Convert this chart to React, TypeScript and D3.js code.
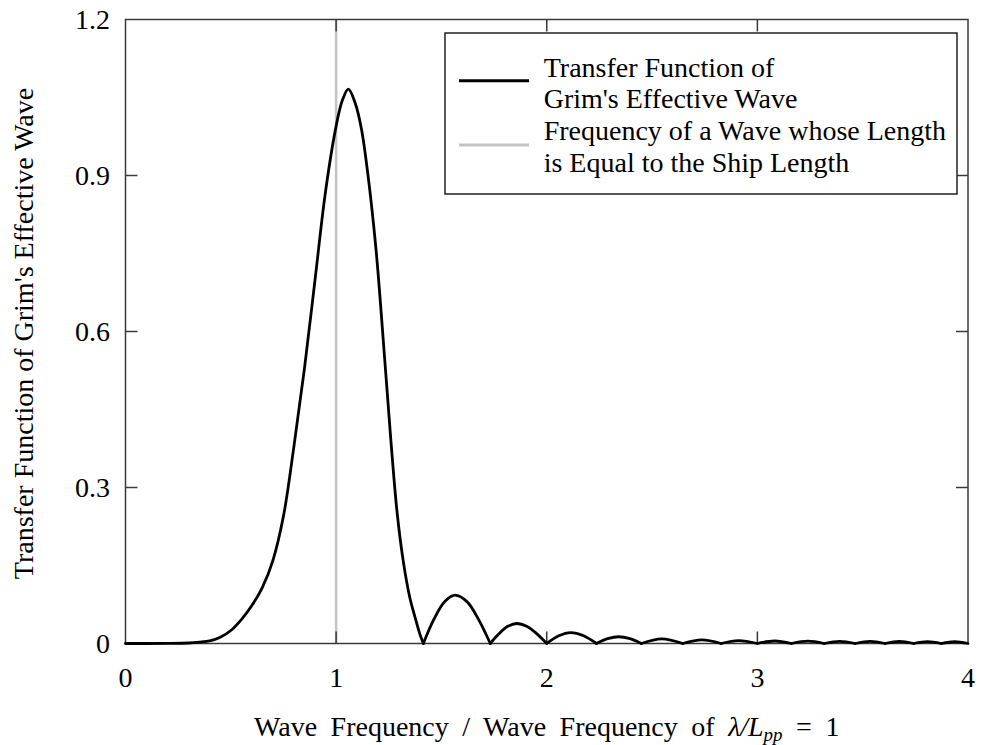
import React from "react";
import * as d3 from "d3";

// ---- data ----
const curveX = [
  0, 0.1, 0.2, 0.3, 0.35, 0.4, 0.45, 0.5, 0.55, 0.6, 0.65, 0.7, 0.75, 0.8, 0.85, 0.9, 0.95, 1.0, 1.03, 1.058,
  1.09, 1.12, 1.15, 1.19, 1.23, 1.26, 1.29, 1.32, 1.35, 1.375, 1.396, 1.414,
  1.464, 1.515, 1.565, 1.621, 1.676, 1.732,
  1.774, 1.815, 1.857, 1.905, 1.952, 2.0,
  2.057, 2.114, 2.175, 2.236,
  2.289, 2.342, 2.395, 2.449,
  2.546, 2.646,
  2.736, 2.828,
  2.911, 3.0,
  3.082, 3.162, 3.24, 3.317, 3.391, 3.464, 3.536, 3.606, 3.674, 3.742, 3.808, 3.873, 3.937, 4.0,
];
const curveY = [
  0, 0, 0.0002, 0.001, 0.0025, 0.005, 0.012, 0.025, 0.046, 0.073, 0.108, 0.16, 0.245, 0.38, 0.53, 0.7, 0.87, 0.995, 1.045, 1.066,
  1.04, 0.99, 0.905, 0.755, 0.55, 0.39, 0.25, 0.155, 0.088, 0.05, 0.02, 0,
  0.0465, 0.0805, 0.093, 0.0805, 0.0465, 0,
  0.019, 0.033, 0.0385, 0.033, 0.019, 0,
  0.0148, 0.021, 0.0148, 0,
  0.0092, 0.013, 0.0092, 0,
  0.009, 0,
  0.0068, 0,
  0.0055, 0,
  0.0048, 0, 0.0045, 0, 0.0042, 0, 0.004, 0, 0.0038, 0, 0.0036, 0, 0.0034, 0,
];
const refFrequency = [1];
const xTicks = [0, 1, 2, 3, 4];
const yTicks = [0, 0.3, 0.6, 0.9, 1.2];
const yTickLabels = ["0", "0.3", "0.6", "0.9", "1.2"];
const legendLabels = [
  ["Transfer Function of", "Grim's Effective Wave"],
  ["Frequency of a Wave whose Length", "is Equal to the Ship Length"],
];

const W = 981;
const H = 745;
const left = 125.5;
const right = 968;
const top = 19.5;
const bottom = 643.5;
const FONT = "'Liberation Serif', 'Times New Roman', serif";

export default function App() {
  const x = d3.scaleLinear().domain([0, 4]).range([left, right]);
  const y = d3.scaleLinear().domain([0, 1.2]).range([bottom, top]);
  const pts: [number, number][] = curveX.map((v, i) => [v, curveY[i]]);

  // split into lobes at the zeros (cusps) past the main peak
  const segments: [number, number][][] = [];
  let cur: [number, number][] = [];
  pts.forEach((p) => {
    cur.push(p);
    if (p[0] > 1.2 && p[1] === 0) {
      segments.push(cur);
      cur = [p];
    }
  });
  if (cur.length > 1) segments.push(cur);

  const line = d3
    .line<[number, number]>()
    .x((d) => x(d[0]))
    .y((d) => y(d[1]))
    .curve(d3.curveCatmullRom.alpha(0.5));
  const tickLen = 12;
  const frameColor = "#3a3a3a";

  return (
    <svg
      width={W}
      height={H}
      style={{ position: "absolute", left: 0, top: 0, background: "#fff" }}
      fontFamily={FONT}
    >
      <rect x={0} y={0} width={W} height={H} fill="#fff" />
      {refFrequency.map((f) => (
        <line key={f} x1={x(f)} x2={x(f)} y1={top} y2={bottom} stroke="#c3c3c3" strokeWidth={2.5} />
      ))}
      {xTicks.slice(1, -1).map((t) => (
        <g key={"xt" + t}>
          <line x1={x(t)} x2={x(t)} y1={bottom} y2={bottom - tickLen} stroke={frameColor} strokeWidth={1.5} />
          <line x1={x(t)} x2={x(t)} y1={top} y2={top + tickLen} stroke={frameColor} strokeWidth={1.5} />
        </g>
      ))}
      {yTicks.slice(1, -1).map((t) => (
        <g key={"yt" + t}>
          <line x1={left} x2={left + tickLen} y1={y(t)} y2={y(t)} stroke={frameColor} strokeWidth={1.5} />
          <line x1={right} x2={right - tickLen} y1={y(t)} y2={y(t)} stroke={frameColor} strokeWidth={1.5} />
        </g>
      ))}
      <rect x={left} y={top} width={right - left} height={bottom - top} fill="none" stroke={frameColor} strokeWidth={1.5} />
      {segments.map((seg, i) => (
        <path key={"seg" + i} d={line(seg) || ""} fill="none" stroke="#000" strokeWidth={2.8} strokeLinejoin="round" strokeLinecap="round" />
      ))}
      {xTicks.map((t) => (
        <text key={"xl" + t} x={x(t)} y={687} textAnchor="middle" fontSize={28} fill="#000">
          {t}
        </text>
      ))}
      {yTicks.map((t, i) => (
        <text key={"yl" + t} x={110} y={y(t) + 9.5} textAnchor="end" fontSize={28} fill="#000">
          {yTickLabels[i]}
        </text>
      ))}
      <text x={(left + right) / 2} y={736} textAnchor="middle" fontSize={28} wordSpacing={6.5} fill="#000">
        <tspan>Wave Frequency / Wave Frequency of </tspan>
        <tspan fontStyle="italic">λ/L</tspan>
        <tspan fontStyle="italic" fontSize={19} dy={5}>pp</tspan>
        <tspan dy={-5}> = 1</tspan>
      </text>
      <text
        transform={`translate(33, ${(top + bottom) / 2 + 2}) rotate(-90)`}
        textAnchor="middle"
        fontSize={28}
        fill="#000"
      >
        Transfer Function of Grim's Effective Wave
      </text>
      <rect x={445} y={33} width={512} height={161} fill="#fff" stroke="#222" strokeWidth={1.5} />
      <line x1={459} x2={529} y1={80.7} y2={80.7} stroke="#000" strokeWidth={3} />
      <line x1={459} x2={529} y1={145} y2={145} stroke="#c3c3c3" strokeWidth={3} />
      {legendLabels.flat().map((s, i) => (
        <text key={"lg" + i} x={543.7} y={76.7 + i * 31.7} fontSize={28} fill="#000">
          {s}
        </text>
      ))}
    </svg>
  );
}
